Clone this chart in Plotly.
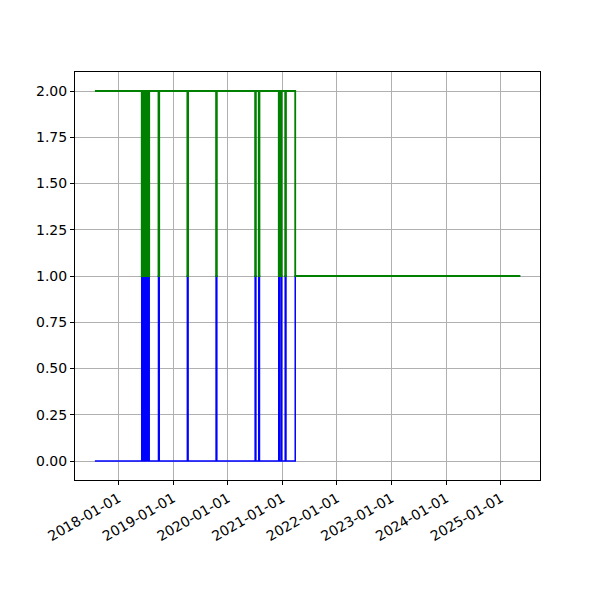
import plotly.graph_objects as go

# Change points (value holds until next date)
dates = [
    "2017-07-28",
    "2018-06-06", "2018-06-09", "2018-06-12", "2018-06-15", "2018-06-18", "2018-06-21",
    "2018-06-24", "2018-06-27", "2018-06-30", "2018-07-03", "2018-07-06", "2018-07-09",
    "2018-07-12", "2018-07-15", "2018-07-18", "2018-07-21", "2018-07-23", "2018-07-26",
    "2018-09-26", "2018-10-01",
    "2019-04-07", "2019-04-12",
    "2019-10-16", "2019-10-21",
    "2020-07-03", "2020-07-08",
    "2020-07-27", "2020-08-01",
    "2020-12-08", "2020-12-12",
    "2020-12-23", "2020-12-27",
    "2021-01-20", "2021-01-25",
    "2021-03-28",
    "2025-05-10",
]
blue_vals = [
    0,
    1, 0, 1, 0, 1, 0,
    1, 0, 1, 0, 1, 0,
    1, 0, 1, 0, 1, 0,
    1, 0,
    1, 0,
    1, 0,
    1, 0,
    1, 0,
    1, 0,
    1, 0,
    1, 0,
    1,
    1,
]
green_vals = [
    2,
    1, 2, 1, 2, 1, 2,
    1, 2, 1, 2, 1, 2,
    1, 2, 1, 2, 1, 2,
    1, 2,
    1, 2,
    1, 2,
    1, 2,
    1, 2,
    1, 2,
    1, 2,
    1, 2,
    1,
    1,
]
x_ticks = ["2018-01-01", "2019-01-01", "2020-01-01", "2021-01-01",
           "2022-01-01", "2023-01-01", "2024-01-01", "2025-01-01"]
y_ticks = [0.0, 0.25, 0.5, 0.75, 1.0, 1.25, 1.5, 1.75, 2.0]

fig = go.Figure()
fig.add_trace(go.Scatter(x=dates, y=blue_vals, mode="lines",
                         line=dict(color="#0000ff", width=1.5, shape="hv"),
                         showlegend=False))
fig.add_trace(go.Scatter(x=dates, y=green_vals, mode="lines",
                         line=dict(color="#008000", width=1.8, shape="hv"),
                         showlegend=False))

axis_common = dict(showline=True, linecolor="black", linewidth=1, mirror=True,
                   ticks="outside", ticklen=4, tickwidth=1, tickcolor="black",
                   showgrid=True, gridcolor="#b0b0b0", gridwidth=1, zeroline=False,
                   automargin=False,
                   tickfont=dict(family="DejaVu Sans", size=14, color="black"))

fig.update_layout(
    width=592, height=592,
    margin=dict(l=67, r=60, t=64, b=120),
    paper_bgcolor="white", plot_bgcolor="white",
    font=dict(family="DejaVu Sans", size=14, color="black"),
    xaxis=dict(type="date", range=["2017-03-17", "2025-09-19"],
               tickvals=x_ticks, ticktext=x_ticks, tickangle=-30, **axis_common),
    yaxis=dict(range=[-0.1027, 2.1027], tickvals=y_ticks,
               ticktext=[f"{v:.2f}" for v in y_ticks], **axis_common),
)

fig.write_html("out.html")
